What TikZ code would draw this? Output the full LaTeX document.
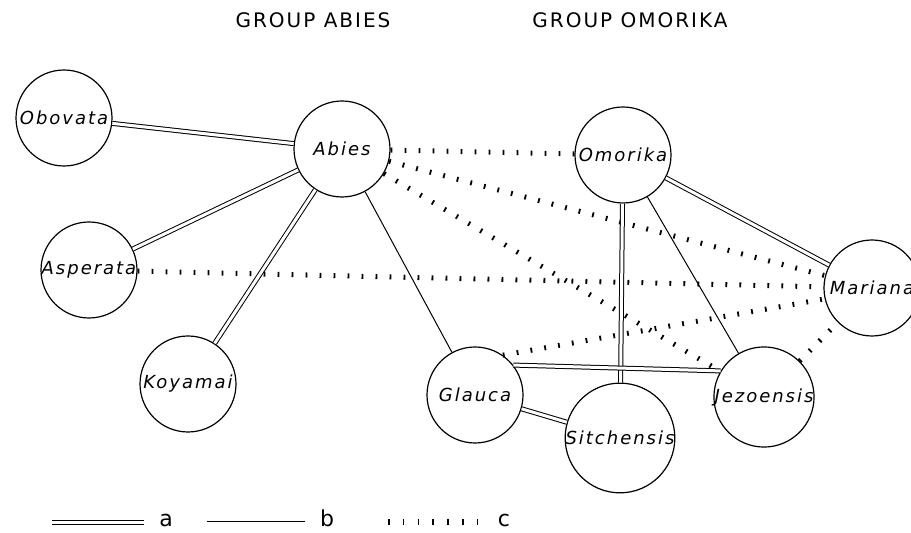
\documentclass[tikz,border=0pt]{standalone}
\usepackage{fontspec}
\setmainfont{DejaVu Sans}
\newfontfamily\namefont[LetterSpace=11]{DejaVu Sans}
\newfontfamily\groupfont[LetterSpace=10]{DejaVu Sans}

\begin{document}
\begin{tikzpicture}[x=0.5pt,y=-0.5pt,
    species/.style={draw,circle,line width=0.6pt,minimum size=48pt,inner sep=0pt,
      font=\namefont\itshape\fontsize{9}{10}\selectfont},
    grouptitle/.style={font=\groupfont\fontsize{10}{12}\selectfont},
    keylabel/.style={font=\fontsize{11}{13}\selectfont},
    linka/.style={double,double distance=1.5pt,line width=0.5pt},
    linkb/.style={line width=0.5pt},
    linkc/.style={line width=2.5pt,dash pattern=on 0.9pt off 6.1pt}]
    \useasboundingbox (0,0) rectangle (911,533);
    % group titles
    \node[grouptitle] (tabies) at (313,20) {GROUP ABIES};
    \node[grouptitle] (tomorika) at (630,20) {GROUP OMORIKA};
    % species
    \node[species] (obovata) at (64,118) {Obovata};
    \node[species] (abies) at (342,149) {Abies};
    \node[species] (asperata) at (89,270) {Asperata};
    \node[species] (koyamai) at (188,384) {Koyamai};
    \node[species] (omorika) at (623,155) {Omorika};
    \node[species] (mariana) at (872,288) {Mariana};
    \node[species] (glauca) at (475,395) {Glauca};
    \node[species] (sitchensis) at (620,438) {Sitchensis};
    \node[species] (jezoensis) at (764,397) {Jezoensis};
    % links
    \draw[linka] (obovata) -- (abies);
    \draw[linka] (abies) -- (asperata);
    \draw[linka] (abies) -- (koyamai);
    \draw[linkb] (abies) -- (glauca);
    \draw[linkc] (abies) -- (omorika);
    \draw[linkc] (abies) -- (mariana);
    \draw[linkc] (abies) -- (jezoensis);
    \draw[linkc] (asperata) -- (mariana);
    \draw[linka] (omorika) -- (mariana);
    \draw[linka] (omorika) -- (sitchensis);
    \draw[linkb] (omorika) -- (jezoensis);
    \draw[linkc] (glauca.55) -- (mariana.193);
    \draw[linkc] (jezoensis) -- (mariana);
    \draw[linka] (glauca.38) -- (jezoensis.149);
    \draw[linka] (glauca) -- (sitchensis);
    % key
    \coordinate (a0) at (52,523);
    \coordinate (a1) at (144,523);
    \coordinate (b0) at (207,522);
    \coordinate (b1) at (305,522);
    \coordinate (c0) at (388,522);
    \coordinate (c1) at (479,522);
    \draw[linka] (a0) -- (a1);
    \draw[linkb] (b0) -- (b1);
    \draw[linkc,line width=3pt,dash pattern=on 0.8pt off 6.6pt] (c0) -- (c1);
    \node[keylabel] (keya) at (166,520) {a};
    \node[keylabel] (keyb) at (327,518) {b};
    \node[keylabel] (keyc) at (504,520) {c};
  \end{tikzpicture}
\end{document}
